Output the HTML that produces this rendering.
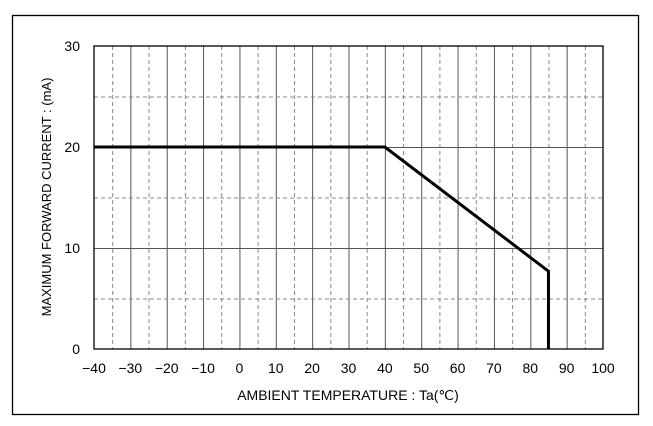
<!DOCTYPE html>
<html><head><meta charset="utf-8"><style>
body{margin:0;background:#fff;width:653px;height:421px;overflow:hidden}
text{font-family:"Liberation Sans",sans-serif;fill:#000}
</style></head><body>
<svg width="653" height="421" viewBox="0 0 653 421" xmlns="http://www.w3.org/2000/svg">
<rect x="12.5" y="15.5" width="626" height="399" fill="#fff" stroke="#000" stroke-width="1.3"/>
<g id="grid"></g>
<rect x="94" y="46" width="509" height="303" fill="none" stroke="#000" stroke-width="1.3"/>
<g id="ticks"></g>
<polyline id="curve" fill="none" stroke="#000" stroke-width="3"/>
<text x="348" y="400" font-size="14" text-anchor="middle">AMBIENT TEMPERATURE : Ta(℃)</text>
<text transform="translate(51,197) rotate(-90)" font-size="13" text-anchor="middle">MAXIMUM FORWARD CURRENT : (mA)</text>
</svg>
<script>
const xTicks=[-40,-30,-20,-10,0,10,20,30,40,50,60,70,80,90,100];
const yTicks=[0,10,20,30];
const curveX=[-40,40,85,85];
const curveY=[20,20,7.7,0];
const X0=94,X1=603,Y0=349,Y1=46;
const sx=v=>X0+(v+40)/140*(X1-X0);
const sy=v=>Y0-v/30*(Y0-Y1);
const NS="http://www.w3.org/2000/svg";
const g=document.getElementById('grid'),t=document.getElementById('ticks');
function line(x1,y1,x2,y2,dash,solidColor){
  const l=document.createElementNS(NS,'line');
  l.setAttribute('x1',x1);l.setAttribute('y1',y1);l.setAttribute('x2',x2);l.setAttribute('y2',y2);
  l.setAttribute('stroke',dash?'#888':'#555');l.setAttribute('stroke-width','1');
  if(dash)l.setAttribute('stroke-dasharray','4,3');
  
  
  g.appendChild(l);
}
for(let v=-35;v<100;v+=5){line(sx(v)+.5,Y1,sx(v)+.5,Y0,v%10!==0);}
for(let v=5;v<30;v+=5){line(X0,sy(v)+.5,X1,sy(v)+.5,v%10!==0);}
xTicks.forEach(v=>{
  const e=document.createElementNS(NS,'text');
  e.setAttribute('x',sx(v));e.setAttribute('y',373);e.setAttribute('font-size','14');e.setAttribute('text-anchor','middle');
  e.textContent=v<0?'−'+(-v):v;
  
  
  t.appendChild(e);
});
yTicks.forEach(v=>{
  const e=document.createElementNS(NS,'text');
  e.setAttribute('x',80);e.setAttribute('y',sy(v)+5);e.setAttribute('font-size','14');e.setAttribute('text-anchor','end');
  e.textContent=v;
  
  
  t.appendChild(e);
});
document.getElementById('curve').setAttribute('points',curveX.map((x,i)=>sx(x)+','+sy(curveY[i])).join(' '));
</script>
</body></html>
